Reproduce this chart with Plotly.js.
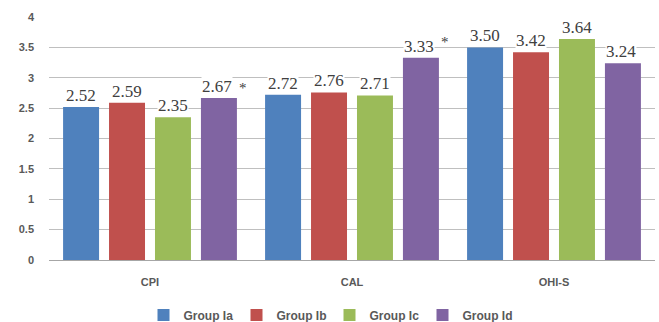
<!DOCTYPE html>
<html>
<head>
<meta charset="utf-8">
<script src="https://cdn.plot.ly/plotly-3.0.1.min.js"></script>
<style>html,body{margin:0;padding:0;background:#fff;}#chart{width:659px;height:322px;}</style>
</head>
<body>
<div id="chart"></div>
<script>
var categories = ['CPI', 'CAL', 'OHI-S'];
var groupNames = ['Group Ia', 'Group Ib', 'Group Ic', 'Group Id'];
var groupIa = [2.52, 2.72, 3.50];
var groupIb = [2.59, 2.76, 3.42];
var groupIc = [2.35, 2.71, 3.64];
var groupId = [2.67, 3.33, 3.24];
var groupIdMarks = ['*', '*', ''];
var colors = ['#4F81BD', '#C0504D', '#9BBB59', '#8064A2'];

var series = [groupIa, groupIb, groupIc, groupId];
var bargap = 0.09, bargroupgap = 0.217;

var traces = series.map(function (vals, j) {
  return {
    type: 'bar', x: categories, y: vals, name: groupNames[j],
    marker: {color: colors[j]}, hoverinfo: 'skip'
  };
});

var annotations = [];
var n = series.length;
var slot = (1 - bargap) / n;
series.forEach(function (vals, j) {
  var off = -(1 - bargap) / 2 + slot * (j + 0.5);
  vals.forEach(function (v, i) {
    annotations.push({
      x: i + off, y: v, xref: 'x', yref: 'y', text: v.toFixed(2),
      showarrow: false, yanchor: 'bottom', yshift: 1, xshift: j === 3 ? -2 : 0,
      bgcolor: '#ffffff', borderpad: 0,
      font: {family: 'Liberation Serif, Times New Roman, serif', size: 17, color: '#404040'}
    });
    if (j === 3 && groupIdMarks[i]) {
      annotations.push({
        x: i + off, y: v, xref: 'x', yref: 'y', text: groupIdMarks[i],
        showarrow: false, yanchor: 'bottom', yshift: i === 1 ? 6 : 0, xshift: 24,
        font: {family: 'Liberation Serif, Times New Roman, serif', size: 15, color: '#404040'}
      });
    }
  });
});

var layout = {
  width: 659, height: 322,
  margin: {l: 49, r: 4, t: 17, b: 62, autoexpand: false},
  paper_bgcolor: '#ffffff', plot_bgcolor: '#ffffff',
  barmode: 'group', bargap: bargap, bargroupgap: bargroupgap,
  showlegend: true,
  legend: {
    orientation: 'h', x: 0.5, xanchor: 'center', xref: 'container',
    y: 0.022, yanchor: 'middle', yref: 'container',
    font: {family: 'Liberation Sans, Arial, sans-serif', size: 12, color: '#595959', weight: 'bold'},
    itemwidth: 30, entrywidth: 48, entrywidthmode: 'pixels', traceorder: 'normal'
  },
  xaxis: {
    type: 'category', showgrid: false, showline: true, linecolor: '#a6a6a6', linewidth: 1,
    ticks: '', ticklabelstandoff: 12,
    tickfont: {family: 'Liberation Sans, Arial, sans-serif', size: 11, color: '#595959', weight: 'bold'}
  },
  yaxis: {
    range: [0, 4.002], tickvals: [0, 0.5, 1, 1.5, 2, 2.5, 3, 3.5, 4],
    ticktext: ['0', '0.5', '1', '1.5', '2', '2.5', '3', '3.5', '4'],
    showgrid: true, gridcolor: '#bfbfbf', gridwidth: 1, zeroline: false,
    showline: false, ticks: '', ticklabelstandoff: 14,
    tickfont: {family: 'Liberation Sans, Arial, sans-serif', size: 11, color: '#595959', weight: 'bold'}
  },
  annotations: annotations
};

Plotly.newPlot('chart', traces, layout, {displayModeBar: false, staticPlot: true});
</script>
</body>
</html>
